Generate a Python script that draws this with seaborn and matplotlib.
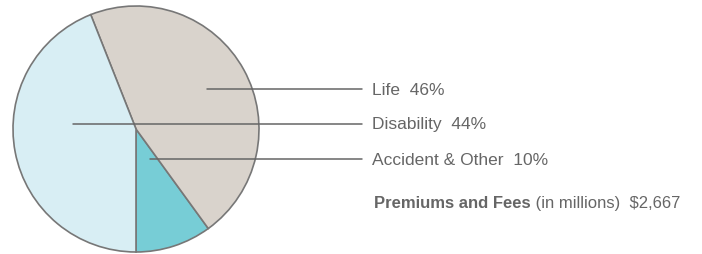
import matplotlib
matplotlib.use("Agg")
import matplotlib.pyplot as plt
import seaborn as sns

# Data
segments = ["Accident & Other", "Life", "Disability"]
shares = [10, 46, 44]
colors = ["#77cdd6", "#d9d3cc", "#d8eef4"]
total_label = "$2,667"

# label order on the right (top to bottom) and where each leader line starts in the pie
label_order = ["Life", "Disability", "Accident & Other"]
line_y = [0.325, 0.041, -0.244]
line_x0 = [0.577, -0.512, 0.114]

sns.set_style("white")
plt.rcParams["font.family"] = ["Liberation Sans Narrow", "Liberation Sans", "DejaVu Sans"]

fig = plt.figure(figsize=(7.02, 2.54), dpi=100)
ax = fig.add_axes([13 / 702, 2 / 254, 246 / 702, 246 / 254])

ax.pie(shares, colors=colors, startangle=270, counterclock=True, radius=1,
       wedgeprops=dict(edgecolor="#777777", linewidth=1.2))
ax.set_xlim(-1, 1)
ax.set_ylim(-1, 1)
ax.set_aspect("equal")
ax.axis("off")

text_color = "#666666"
x_line_end = 1.837
x_text = 1.919
for name, y, x0 in zip(label_order, line_y, line_x0):
    pct = shares[segments.index(name)]
    ax.plot([x0, x_line_end], [y, y], color="#666666", lw=1.1, clip_on=False)
    ax.text(x_text, y - 0.045, f"{name}  {pct}%", fontsize=12.5, color=text_color,
            va="baseline", ha="left")

# total line
t1 = ax.text(x_text + 0.02, -0.645, "Premiums and Fees", fontsize=12, fontweight="bold",
             color=text_color, va="baseline", ha="left")
fig.canvas.draw()
bb = t1.get_window_extent().transformed(ax.transData.inverted())
ax.text(bb.x1, -0.645, f" (in millions)  {total_label}", fontsize=12,
        color=text_color, va="baseline", ha="left")

fig.savefig("out.png", dpi=100)
